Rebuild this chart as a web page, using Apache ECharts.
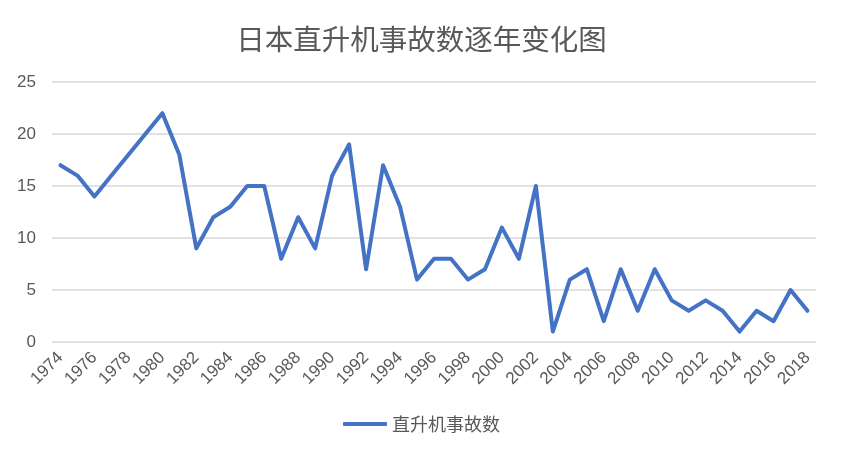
<!DOCTYPE html>
<html>
<head>
<meta charset="utf-8">
<script src="https://cdn.jsdelivr.net/npm/echarts@6/dist/echarts.min.js"></script>
<style>
  html, body { margin: 0; padding: 0; background: #fff; }
  #chart { width: 843px; height: 452px; }
</style>
</head>
<body>
<div id="chart"></div>
<script>
const years = []
for (let y = 1974; y <= 2018; y++) years.push(String(y))

const accidents = [
  17, 16, 14, 16, 18, 20, 22, 18, 9, 12,
  13, 15, 15, 8, 12, 9, 16, 19, 7, 17,
  13, 6, 8, 8, 6, 7, 11, 8, 15, 1,
  6, 7, 2, 7, 3, 7, 4, 3, 4, 3,
  1, 3, 2, 5, 3
]

const titleText = '日本直升机事故数逐年变化图'
const seriesName = '直升机事故数'

const fontFamily = '"Liberation Sans", "Noto Sans CJK SC", sans-serif'
const textColor = '#595959'

const chart = echarts.init(document.getElementById('chart'))

chart.setOption({
  animation: false,
  title: {
    text: titleText,
    left: 'center',
    top: 20,
    textStyle: { fontFamily: '"Noto Sans CJK SC", sans-serif', fontSize: 28.5, fontWeight: 'normal', color: textColor }
  },
  legend: {
    bottom: 14,
    left: 'center',
    icon: 'roundRect',
    itemWidth: 44,
    itemHeight: 4,
    itemGap: 6,
    textStyle: { fontFamily: '"Noto Sans CJK SC", sans-serif', fontSize: 18, color: textColor },
    data: [seriesName]
  },
  grid: { left: 52, right: 27, top: 82, bottom: 110, containLabel: false },
  xAxis: {
    type: 'category',
    data: years,
    boundaryGap: true,
    axisLine: { show: false },
    axisTick: { show: false },
    axisLabel: {
      interval: 1,
      rotate: 45,
      margin: 13,
      fontFamily: fontFamily,
      fontSize: 17,
      color: textColor
    }
  },
  yAxis: {
    type: 'value',
    min: 0,
    max: 25,
    interval: 5,
    axisLine: { show: false },
    axisTick: { show: false },
    axisLabel: { margin: 16, fontFamily: fontFamily, fontSize: 17, color: textColor },
    splitLine: { lineStyle: { color: '#d9d9d9', width: 1.5 } }
  },
  series: [
    {
      name: seriesName,
      type: 'line',
      data: accidents,
      symbol: 'none',
      lineStyle: { color: '#4472C4', width: 4, join: 'round', cap: 'round' },
      itemStyle: { color: '#4472C4' }
    }
  ]
})
</script>
</body>
</html>
